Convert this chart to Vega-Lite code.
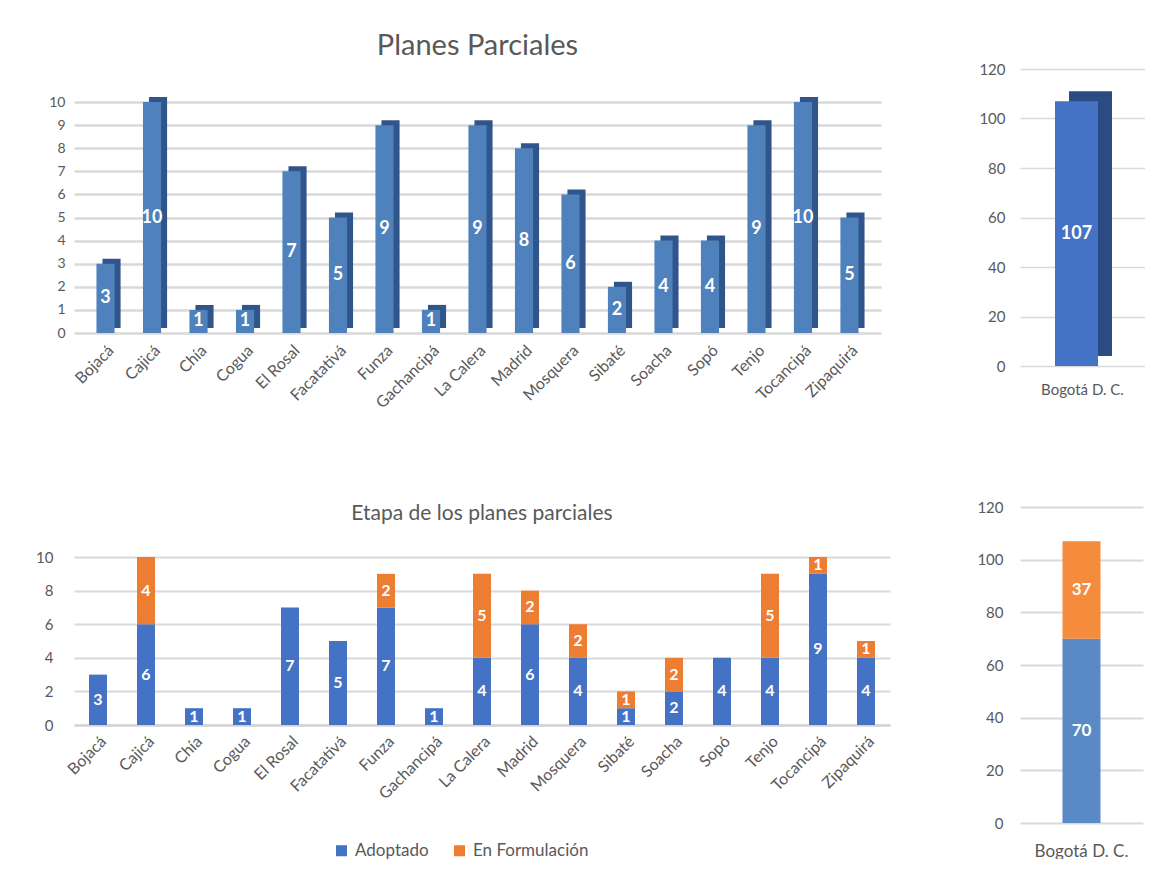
{
  "$schema": "https://vega.github.io/schema/vega-lite/v6.json",
  "background": "white",
  "padding": {"left": 35, "top": 32, "right": 0, "bottom": 0},
  "config": {
    "font": "Lato",
    "view": {"stroke": null},
    "axis": {"labelColor": "#595959", "domain": false, "ticks": false, "gridColor": "#D9D9D9", "labelFont": "Lato", "labelOverlap": false},
    "title": {"color": "#595959", "fontWeight": "normal", "font": "Lato"}
  },
  "datasets": {
    "planes": [
      {"municipio": "Bojacá", "total": 3},
      {"municipio": "Cajicá", "total": 10},
      {"municipio": "Chía", "total": 1},
      {"municipio": "Cogua", "total": 1},
      {"municipio": "El Rosal", "total": 7},
      {"municipio": "Facatativá", "total": 5},
      {"municipio": "Funza", "total": 9},
      {"municipio": "Gachancipá", "total": 1},
      {"municipio": "La Calera", "total": 9},
      {"municipio": "Madrid", "total": 8},
      {"municipio": "Mosquera", "total": 6},
      {"municipio": "Sibaté", "total": 2},
      {"municipio": "Soacha", "total": 4},
      {"municipio": "Sopó", "total": 4},
      {"municipio": "Tenjo", "total": 9},
      {"municipio": "Tocancipá", "total": 10},
      {"municipio": "Zipaquirá", "total": 5}
    ],
    "etapa": [
      {"municipio": "Bojacá", "etapa": "Adoptado", "n": 3},
      {"municipio": "Cajicá", "etapa": "Adoptado", "n": 6},
      {"municipio": "Cajicá", "etapa": "En Formulación", "n": 4},
      {"municipio": "Chía", "etapa": "Adoptado", "n": 1},
      {"municipio": "Cogua", "etapa": "Adoptado", "n": 1},
      {"municipio": "El Rosal", "etapa": "Adoptado", "n": 7},
      {"municipio": "Facatativá", "etapa": "Adoptado", "n": 5},
      {"municipio": "Funza", "etapa": "Adoptado", "n": 7},
      {"municipio": "Funza", "etapa": "En Formulación", "n": 2},
      {"municipio": "Gachancipá", "etapa": "Adoptado", "n": 1},
      {"municipio": "La Calera", "etapa": "Adoptado", "n": 4},
      {"municipio": "La Calera", "etapa": "En Formulación", "n": 5},
      {"municipio": "Madrid", "etapa": "Adoptado", "n": 6},
      {"municipio": "Madrid", "etapa": "En Formulación", "n": 2},
      {"municipio": "Mosquera", "etapa": "Adoptado", "n": 4},
      {"municipio": "Mosquera", "etapa": "En Formulación", "n": 2},
      {"municipio": "Sibaté", "etapa": "Adoptado", "n": 1},
      {"municipio": "Sibaté", "etapa": "En Formulación", "n": 1},
      {"municipio": "Soacha", "etapa": "Adoptado", "n": 2},
      {"municipio": "Soacha", "etapa": "En Formulación", "n": 2},
      {"municipio": "Sopó", "etapa": "Adoptado", "n": 4},
      {"municipio": "Tenjo", "etapa": "Adoptado", "n": 4},
      {"municipio": "Tenjo", "etapa": "En Formulación", "n": 5},
      {"municipio": "Tocancipá", "etapa": "Adoptado", "n": 9},
      {"municipio": "Tocancipá", "etapa": "En Formulación", "n": 1},
      {"municipio": "Zipaquirá", "etapa": "Adoptado", "n": 4},
      {"municipio": "Zipaquirá", "etapa": "En Formulación", "n": 1}
    ],
    "bogota": [
      {"ciudad": "Bogotá D. C.", "total": 107}
    ],
    "bogotaEtapa": [
      {"ciudad": "Bogotá D. C.", "etapa": "Adoptado", "n": 70},
      {"ciudad": "Bogotá D. C.", "etapa": "En Formulación", "n": 37}
    ]
  },
  "spacing": 89,
  "vconcat": [
    {
      "spacing": 97,
      "hconcat": [
        {
          "width": 807,
          "height": 264,
          "title": {"text": "Planes Parciales", "fontSize": 29, "offset": 8},
          "data": {"name": "planes"},
          "encoding": {
            "x": {"field": "municipio", "type": "nominal", "sort": null, "title": null,
              "scale": {"paddingInner": 0.61, "paddingOuter": 0.483},
              "axis": {"labelAngle": -45, "labelFontSize": 16, "labelPadding": 9, "grid": false}}
          },
          "layer": [
            {
              "mark": {"type": "bar", "color": "#30558A", "xOffset": 6, "yOffset": -5},
              "encoding": {
                "y": {"field": "total", "type": "quantitative", "scale": {"domain": [0, 11.43], "nice": false},
                  "axis": {"values": [0, 1, 2, 3, 4, 5, 6, 7, 8, 9, 10], "gridWidth": 2.5, "labelFontSize": 14, "labelPadding": 9, "title": null}}
              }
            },
            {
              "mark": {"type": "bar", "color": "#4F81BD"},
              "encoding": {"y": {"field": "total", "type": "quantitative",
                  "axis": {"values": [0, 1, 2, 3, 4, 5, 6, 7, 8, 9, 10], "gridWidth": 2.5, "labelFontSize": 14, "labelPadding": 9, "title": null}}}
            },
            {
              "mark": {"type": "text", "color": "white", "fontWeight": "bold", "fontSize": 18},
              "encoding": {
                "y": {"field": "total", "type": "quantitative", "stack": "zero", "bandPosition": 0.5,
                  "axis": {"values": [0, 1, 2, 3, 4, 5, 6, 7, 8, 9, 10], "gridWidth": 2.5, "labelFontSize": 14, "labelPadding": 9, "title": null}},
                "text": {"field": "total", "type": "quantitative"}
              }
            }
          ]
        },
        {
          "width": 125,
          "height": 297,
          "data": {"name": "bogota"},
          "encoding": {
            "x": {"field": "ciudad", "type": "nominal", "title": null,
              "axis": {"labelAngle": 0, "labelFontSize": 15, "labelPadding": 16, "grid": false}}
          },
          "layer": [
            {
              "mark": {"type": "bar", "color": "#2B4B83", "width": 43, "xOffset": 8, "yOffset": -10},
              "encoding": {
                "y": {"field": "total", "type": "quantitative", "scale": {"domain": [0, 120], "nice": false},
                  "axis": {"values": [0, 20, 40, 60, 80, 100, 120], "gridWidth": 1.5, "labelFontSize": 15, "labelPadding": 15, "title": null}}
              }
            },
            {
              "mark": {"type": "bar", "color": "#4472C4", "width": 43, "xOffset": -6},
              "encoding": {"y": {"field": "total", "type": "quantitative",
                  "axis": {"values": [0, 20, 40, 60, 80, 100, 120], "gridWidth": 1.5, "labelFontSize": 15, "labelPadding": 15, "title": null}}}
            },
            {
              "mark": {"type": "text", "color": "white", "fontWeight": "bold", "fontSize": 18, "xOffset": -6},
              "encoding": {
                "y": {"field": "total", "type": "quantitative", "stack": "zero", "bandPosition": 0.5,
                  "axis": {"values": [0, 20, 40, 60, 80, 100, 120], "gridWidth": 1.5, "labelFontSize": 15, "labelPadding": 15, "title": null}},
                "text": {"field": "total", "type": "quantitative"}
              }
            }
          ]
        }
      ]
    },
    {
      "spacing": 86,
      "resolve": {"scale": {"color": "independent"}, "legend": {"color": "independent"}},
      "hconcat": [
        {
          "width": 816,
          "height": 218,
          "title": {"text": "Etapa de los planes parciales", "fontSize": 21, "offset": -17},
          "data": {"name": "etapa"},
          "encoding": {
            "x": {"field": "municipio", "type": "nominal", "sort": null, "title": null,
              "scale": {"paddingInner": 0.625, "paddingOuter": 0.3125},
              "axis": {"labelAngle": -45, "labelFontSize": 16, "labelPadding": 8, "grid": false, "domain": true, "domainColor": "#D0D0D0", "domainWidth": 2}}
          },
          "layer": [
            {
              "mark": {"type": "bar"},
              "encoding": {
                "y": {"field": "n", "type": "quantitative", "stack": "zero", "scale": {"domain": [0, 12.98], "nice": false},
                  "axis": {"values": [0, 2, 4, 6, 8, 10], "gridWidth": 2, "labelFontSize": 15, "labelPadding": 21, "title": null}},
                "order": {"field": "etapa", "type": "nominal", "sort": "ascending"},
                "color": {"field": "etapa", "type": "nominal",
                  "scale": {"domain": ["Adoptado", "En Formulación"], "range": ["#4472C4", "#ED7D31"]},
                  "legend": {"orient": "none", "legendX": 259, "legendY": 335, "direction": "horizontal", "title": null, "symbolType": "square", "symbolSize": 121, "symbolStrokeWidth": 0, "labelFontSize": 17, "labelOffset": 5, "labelColor": "#595959", "columnPadding": 22}}
              }
            },
            {
              "mark": {"type": "text", "color": "white", "fontWeight": "bold", "fontSize": 16},
              "encoding": {
                "y": {"field": "n", "type": "quantitative", "stack": "zero", "bandPosition": 0.5,
                  "axis": {"values": [0, 2, 4, 6, 8, 10], "gridWidth": 2, "labelFontSize": 15, "labelPadding": 21, "title": null}},
                "order": {"field": "etapa", "type": "nominal", "sort": "ascending"},
                "detail": {"field": "etapa"},
                "text": {"field": "n", "type": "quantitative"}
              }
            }
          ]
        },
        {
          "width": 123,
          "height": 316,
          "data": {"name": "bogotaEtapa"},
          "encoding": {
            "x": {"field": "ciudad", "type": "nominal", "title": null,
              "axis": {"labelAngle": 0, "labelFontSize": 17, "labelPadding": 20, "grid": false}}
          },
          "layer": [
            {
              "mark": {"type": "bar", "width": 38},
              "encoding": {
                "y": {"field": "n", "type": "quantitative", "stack": "zero", "scale": {"domain": [0, 120], "nice": false},
                  "axis": {"values": [0, 20, 40, 60, 80, 100, 120], "gridWidth": 2, "labelFontSize": 15, "labelPadding": 17, "title": null}},
                "order": {"field": "etapa", "type": "nominal", "sort": "ascending"},
                "color": {"field": "etapa", "type": "nominal",
                  "scale": {"domain": ["Adoptado", "En Formulación"], "range": ["#5A8AC6", "#F58B3C"]},
                  "legend": null}
              }
            },
            {
              "mark": {"type": "text", "color": "white", "fontWeight": "bold", "fontSize": 17},
              "encoding": {
                "y": {"field": "n", "type": "quantitative", "stack": "zero", "bandPosition": 0.5,
                  "axis": {"values": [0, 20, 40, 60, 80, 100, 120], "gridWidth": 2, "labelFontSize": 15, "labelPadding": 17, "title": null}},
                "order": {"field": "etapa", "type": "nominal", "sort": "ascending"},
                "detail": {"field": "etapa"},
                "text": {"field": "n", "type": "quantitative"}
              }
            }
          ]
        }
      ]
    }
  ]
}
